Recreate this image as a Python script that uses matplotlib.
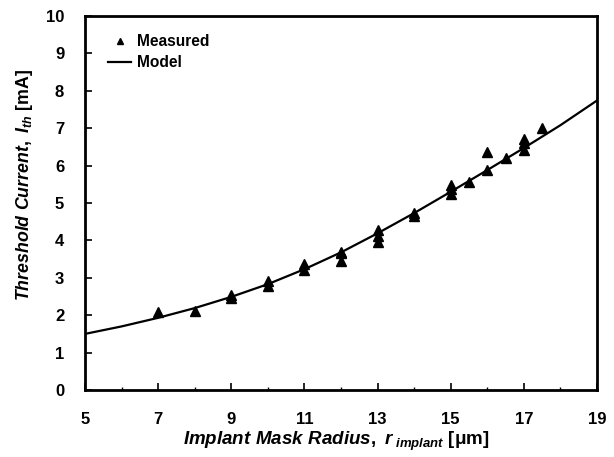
import matplotlib
matplotlib.use("Agg")
import matplotlib.pyplot as plt

plt.rcParams['font.family'] = ['Liberation Sans', 'DejaVu Sans']
plt.rcParams['mathtext.fontset'] = 'custom'
plt.rcParams['mathtext.it'] = 'Liberation Sans:italic:bold'
plt.rcParams['mathtext.rm'] = 'Liberation Sans:bold'
plt.rcParams['mathtext.bf'] = 'Liberation Sans:bold'

# Measured data
meas_x = [7, 8, 9, 9, 10, 10, 11, 11, 12, 12, 12, 13, 13, 13, 14, 14,
          15, 15, 15, 15.5, 16, 16, 16.5, 17, 17, 17, 17.5]
meas_y = [2.08, 2.1, 2.45, 2.55, 2.78, 2.92, 3.22, 3.38, 3.45, 3.65, 3.7, 3.95, 4.12, 4.28, 4.65, 4.72,
          5.25, 5.38, 5.48, 5.55, 6.36, 5.88, 6.2, 6.42, 6.6, 6.72, 7.0]

# Model curve
model_x = [5, 6, 7, 8, 9, 10, 11, 12, 13, 14, 15, 16, 17, 18, 19]
model_y = [1.50, 1.70, 1.93, 2.19, 2.49, 2.83, 3.23, 3.68, 4.19, 4.73, 5.30, 5.88, 6.47, 7.08, 7.74]

x_ticks = [5, 7, 9, 11, 13, 15, 17, 19]
y_ticks = list(range(0, 11))

fig = plt.figure(figsize=(6.14, 4.57), dpi=100)
ax = fig.add_axes([0.1384, 0.1466, 0.8339, 0.8184])

ax.plot(meas_x, meas_y, linestyle='none', marker='^', color='black',
        markersize=7, label='Measured')
ax.plot(model_x, model_y, color='black', linewidth=1.6, label='Model')

ax.set_xlim(5, 19)
ax.set_ylim(0, 10)
ax.set_xticks(x_ticks)
ax.set_yticks(y_ticks)
ax.set_xticks([6, 8, 10, 12, 14, 16, 18], minor=True)
ax.tick_params(which='major', direction='in', length=5, width=1.2, labelsize=12)
ax.tick_params(axis='x', which='major', pad=16)
ax.tick_params(axis='y', which='major', pad=15)
ax.tick_params(which='minor', direction='in', length=2, width=1.0)
for lab in ax.get_xticklabels() + ax.get_yticklabels():
    lab.set_fontweight('bold')
for s in ax.spines.values():
    s.set_linewidth(2.0)

ax.set_xlabel(r'$Implant\ Mask\ Radius,\ r_{\ implant}$ [μm]', fontsize=13.5,
              fontweight='bold')
ax.set_ylabel(r'$Threshold\ Current,\ I_{th}$ [mA]', fontsize=12.8,
              fontweight='bold')
ax.xaxis.set_label_coords(0.49, -0.107)
ax.yaxis.set_label_coords(-0.098, 0.548)

leg = ax.legend(loc='upper left', bbox_to_anchor=(0.045, 0.952), frameon=False,
                prop={'weight': 'bold', 'size': 11.2}, borderpad=0, borderaxespad=0,
                handlelength=1.5, handletextpad=0.35,
                labelspacing=0.4, markerscale=0.7)

fig.savefig('out.png', dpi=100)
